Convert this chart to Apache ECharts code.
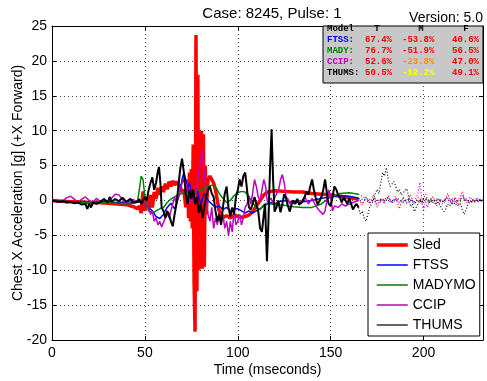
<!DOCTYPE html>
<html><head><meta charset="utf-8">
<script src="https://cdn.jsdelivr.net/npm/echarts@6/dist/echarts.min.js"></script>
<style>html,body{margin:0;padding:0;background:#fff}#c{width:487px;height:381px}</style>
</head><body><div id="c"></div>
<script>
// ---- data (time in ms, acceleration in g) ----
const seriesNames = ['Sled', 'FTSS', 'MADYMO', 'CCIP', 'THUMS'];
const xTicks = [0, 50, 100, 150, 200];
const yTicks = [-20, -15, -10, -5, 0, 5, 10, 15, 20, 25];
const solidEnd = 165; // after this time the traces are drawn dotted

const sled = [[0,0],[5,-0.1],[10,-0.2],[15,-0.2],[20,-0.3],[25,-0.3],[30,-0.4],[35,-0.5],[40,-0.6],[44,-0.9],[46,-1.2],[47,-0.8],[48,-1.8],[49,1.3],[50,-1.5],[51,0.5],[52,-1.2],[53,0.8],[54,-1.0],[55,1.2],[56,0.2],[57,1.8],[58,0.8],[59,2.0],[60,1.2],[61,2.4],[62,1.6],[63,2.7],[64,2.0],[65,2.8],[66,2.2],[67,2.7],[68,2.3],[69,2.0],[70,1.2],[71,1.5],[72,-1.0],[73,3.0],[73.5,-2.5],[74,4.0],[74.5,-3.0],[75,4.5],[75.5,-4],[76,8],[76.5,-12],[77,-18.8],[77.5,23.7],[78,-13],[78.5,18],[79,-10],[79.5,10],[80,-9.8],[80.5,10],[81,-9.8],[81.5,9.5],[82,-9.5],[82.5,5],[83,-2],[84,3],[85,3.5],[86,3],[87,2.5],[88,1.5],[89,0],[90,-1.5],[91,-2],[92,-2.4],[94,-2.2],[96,-2.5],[98,-2.1],[100,-2.3],[102,-2.4],[104,-2.3],[106,-2.1],[108,-1.6],[110,-0.8],[112,0],[114,0.8],[116,1.2],[118,1.3],[120,1.4],[125,1.3],[130,1.2],[135,1.2],[140,1.0],[145,0.9],[150,0.8],[155,0.6],[160,0.4],[165,0.2],[167,-0.6],[169,0.5],[171,-0.5],[173,0.8],[175,-1.0],[177,0.3],[179,-0.5],[181,0.7],[183,-0.4],[185,0.6],[187,-1.2],[189,0.5],[191,-0.3],[193,0.8],[195,-0.6],[197,0.4],[199,-0.5],[201,0.9],[203,-0.3],[205,0.6],[207,-0.8],[209,0.3],[211,-0.4],[213,1.0],[215,-0.5],[217,0.5],[219,-0.7],[221,0.8],[223,-0.3],[225,0.5],[227,-0.2],[229,0.3],[232,0]];

const ftss = [[0,0],[5,-0.1],[10,-0.2],[15,-0.2],[20,-0.3],[25,-0.3],[30,-0.2],[35,-0.3],[40,-0.2],[45,-0.3],[48,-0.2],[50,-0.5],[52,-1.0],[54,-1.5],[56,-2.3],[58,-2.6],[60,-2.0],[62,-1.0],[64,-0.4],[66,-1.2],[68,0.3],[69,1.5],[70,3.0],[71,4.0],[72,3.0],[73,1.5],[74,2.5],[75,1.0],[76,0.5],[78,1.5],[80,-0.5],[82,1.0],[84,0],[86,-0.5],[88,-1.0],[90,-0.8],[92,-1.3],[94,-1.0],[96,-1.5],[98,-1.2],[100,-1.2],[102,-1.5],[104,-1.8],[106,-1.5],[108,-1.8],[110,-1.5],[112,-1.2],[114,-0.8],[116,-0.5],[118,-0.3],[120,-0.5],[122,-0.2],[125,0],[130,-0.3],[135,-0.2],[140,0],[145,0.3],[150,0.5],[155,0.7],[160,0.6],[165,0.3],[168,0.1],[171,-0.3],[174,0.2],[177,-0.2],[180,0.4],[183,-0.1],[186,0.3],[189,-0.3],[192,0.2],[195,-0.4],[198,0.1],[201,0.3],[204,-0.2],[207,0.2],[210,-0.1],[213,0.3],[216,-0.3],[219,0.1],[222,0.4],[225,-0.2],[228,0.2],[232,0]];

const madymo = [[0,0],[5,-0.1],[10,-0.2],[15,-0.3],[20,-0.3],[25,-0.4],[30,-0.3],[35,-0.4],[40,-0.5],[44,-0.4],[46,-0.2],[47,1.5],[48,3.5],[49,3.0],[50,0.5],[51,-1.0],[52,-1.5],[54,-1.8],[56,-1.5],[58,-1.2],[60,-1.0],[62,-0.3],[64,0.2],[66,0.5],[68,0.8],[70,1.0],[72,1.2],[74,0.8],[76,1.0],[78,1.5],[80,1.3],[82,1.8],[84,2.0],[86,2.2],[88,2.0],[90,1.0],[92,0.3],[94,-0.3],[96,0],[98,0.7],[100,1.1],[102,1.3],[104,1.2],[106,0.6],[108,-0.3],[110,-1.0],[112,-1.3],[114,-0.6],[116,-0.4],[118,-0.5],[120,-0.6],[125,-0.7],[130,-0.9],[135,-1.0],[140,-1.0],[145,-0.5],[150,0.5],[155,1.0],[160,1.1],[165,0.9],[168,0.4],[171,0.1],[174,-0.2],[177,0.2],[180,0],[183,-0.3],[186,0.1],[189,-0.1],[192,0.2],[195,-0.2],[198,0],[201,0.2],[204,-0.1],[207,0.1],[210,-0.2],[213,0],[216,0.2],[219,-0.1],[222,0.1],[225,-0.2],[228,0],[232,0.1]];

const ccip = [[0,0],[2,-0.1],[4,-0.2],[6,0],[8,0.4],[10,0.6],[12,0.2],[14,-0.3],[16,0.2],[18,0.5],[20,0],[22,-0.3],[24,0.3],[26,-0.2],[28,0.2],[30,-0.2],[32,0.3],[34,0.9],[36,0.8],[38,0.1],[40,-0.3],[42,0.2],[44,0.1],[46,-0.3],[48,-0.2],[50,-0.5],[52,-1.0],[53,-2.0],[54,-1.5],[55,-3.0],[56,-2.5],[57,-3.5],[58,-3.0],[59,-3.8],[60,-3.7],[61,-2.5],[62,-1.8],[63,-2.5],[64,-1.5],[65,-0.5],[66,0.5],[67,-0.5],[68,0.5],[69,1.5],[70,2.5],[71,3.0],[72,2.5],[73,1.0],[74,2.0],[75,-0.5],[76,1.0],[77,0.5],[78,2.0],[79,4.0],[80,6.0],[81,7.0],[82,4.0],[83,0.5],[84,-2.0],[85,-3.0],[86,-1.0],[87,-4.0],[88,-2.5],[89,-3.5],[90,-1.5],[91,-3.5],[92,-2.0],[93,-4.0],[94,-3.0],[95,-5.0],[96,-3.0],[97,-4.5],[98,-1.5],[99,-3.5],[100,-3.0],[101,-2.0],[102,-3.5],[103,-2.5],[104,-1.0],[105,-0.5],[106,0.6],[107,-0.5],[108,1.0],[109,3.0],[110,2.0],[111,0.5],[112,0],[113,1.5],[114,3.0],[115,2.0],[116,-0.3],[117,-0.5],[118,0.3],[119,-0.5],[120,0.5],[121,0.3],[122,1.5],[123,3.0],[124,3.7],[125,2.5],[126,0.5],[127,0.2],[128,-0.5],[129,0],[130,-0.5],[132,0.2],[134,-0.3],[136,0.5],[138,-0.5],[140,0.3],[142,-0.8],[144,-1.5],[146,-2.0],[147,-1.5],[148,0.0],[149,1.5],[150,0.5],[151,-1.5],[152,-0.8],[154,-1.0],[156,-0.5],[158,-0.8],[160,-0.5],[162,-0.3],[165,0],[167,-0.5],[169,0.4],[171,-0.3],[173,0.3],[175,-0.6],[177,0.2],[179,-0.2],[181,0.5],[183,-0.4],[185,0.2],[187,-0.3],[189,0.3],[191,-0.5],[193,0.2],[195,-0.2],[197,1.0],[198,2.6],[199,0.5],[200,-1.6],[201,0],[202,-1.0],[204,0.3],[206,-0.4],[208,0.2],[210,-0.5],[212,0.5],[214,-0.2],[216,0.3],[218,-0.4],[220,0.8],[221,1.3],[222,0.3],[224,-0.3],[226,0.2],[228,0],[230,-0.2],[232,0]];

const thums = [[0,0],[2,-0.1],[4,-0.2],[6,-0.1],[8,-0.3],[10,-0.2],[12,-0.4],[14,-0.3],[16,-0.6],[18,-0.5],[19,-1.2],[20,-0.5],[21,-1.0],[22,-0.3],[24,-0.5],[26,-0.2],[28,0.2],[30,-0.3],[31,0.5],[32,-0.2],[34,0.2],[36,-0.1],[38,0.4],[40,-0.2],[42,0.2],[44,-0.3],[46,-0.2],[47,0.2],[48,-0.5],[49,0],[50,0.5],[51,0],[52,1.5],[53,2.5],[54,3.3],[55,1.5],[56,2.5],[57,4.2],[57.6,4.8],[58.5,2.0],[59,-1.0],[60,-1.5],[61,-2.5],[62,-1.5],[63,-2.0],[64,-3.0],[65,-3.7],[66,-2.0],[67,-0.5],[68,2.0],[69,4.5],[70,6.0],[71,4.0],[72,0.8],[73,-0.5],[74,1.5],[75,0.2],[76,1.6],[77,-0.5],[78,0.5],[79,-1.8],[80,-0.5],[81,-2.5],[82,-1.0],[83,0.5],[84,1.5],[85,2.0],[86,1.0],[87,0.5],[88,-1.5],[89,-3.0],[90,-2.0],[91,-3.5],[92,-1.0],[93,1.0],[94,2.0],[95,-1.0],[96,-2.3],[97,-1.0],[98,-2.0],[99,0.5],[100,1.5],[101,3.0],[102,2.0],[103,3.5],[104,4.0],[105,1.5],[106,-1.0],[107,-1.3],[108,-0.5],[109,0.5],[110,0.6],[111,-1.5],[112,-4.0],[113,-4.5],[114,-2.0],[114.7,-0.5],[115.7,-8.7],[116.5,-3.0],[117.3,4.0],[118.2,10.2],[119,3.0],[119.8,-1.6],[120.8,-1.0],[121.8,0.0],[123,-1.7],[124,-0.5],[125,0.9],[126,0.3],[127,-0.8],[128,-1.6],[129,-0.5],[130,0.0],[131,-0.5],[132,0.2],[133,-0.6],[134.5,-0.3],[136,0.5],[137,1.3],[138,0.8],[139,2.0],[140,3.0],[141,1.5],[142,0.3],[143,-0.6],[144,-0.8],[145,0.5],[146,1.5],[147,3.0],[148,1.0],[148.5,-0.1],[149,-0.5],[150,-0.8],[151,0.5],[152,2.0],[153,1.6],[154,0.8],[155,0.4],[156,-0.3],[157,0.5],[158,0],[159,-0.5],[160,0.3],[161,-0.5],[162,-1.3],[163,-0.8],[164,-0.5],[165,-1.0],[166,-2.0],[167,-1.5],[168,-2.5],[169,-3.0],[170,-2.0],[171,-1.0],[172,-1.2],[173,0.0],[174,1.0],[175,1.6],[176,1.0],[177,2.5],[178,4.0],[179,3.5],[180,4.7],[181,3.0],[182,2.0],[183,2.2],[184,2.7],[185,2.0],[186,1.2],[187,1.6],[188,0.8],[189,1.0],[190,1.4],[191,1.7],[192,0.5],[193,-0.9],[194,-0.5],[195,-1.6],[196,-1.0],[197,-0.5],[198,0.0],[199,-0.3],[200,0.3],[201,0.4],[202,0],[203,-0.4],[204,0.1],[205,-0.3],[206,0.0],[207,-0.5],[208,-0.2],[209,-0.8],[210,-1.0],[211,-1.6],[212,-1.2],[213,-0.5],[214,-0.8],[215,-0.2],[216,-0.6],[217,-0.3],[218,-0.8],[219,-1.0],[220,-0.5],[221,-1.5],[222,-2.0],[223,-1.2],[224,-0.5],[225,-0.2],[226,0],[228,-0.2],[230,0],[232,-0.1]];

// correlation table
const tableHeader = ['Model', 'T', 'M', 'F'];
const tableModels = ['FTSS:', 'MADY:', 'CCIP:', 'THUMS:'];
const tableT = ['67.4%', '76.7%', '52.6%', '50.5%'];
const tableM = ['-53.8%', '-51.9%', '-23.8%', '-12.2%'];
const tableF = ['40.6%', '56.5%', '47.0%', '49.1%'];

// ---- styles ----
const colors = ['#ff0000', '#0000ff', '#008000', '#bf00bf', '#000000'];
const widths = [3.5, 1.5, 1.5, 1.5, 2];
const legendWidths = [3.5, 1.5, 1.5, 1.5, 1.2];
const tableModelColors = ['#0000ff', '#008000', '#bf00bf', '#000000'];
const tableMColors = ['#ff0000', '#ff0000', '#ff8c00', '#ffff00'];
const allData = [sled, ftss, madymo, ccip, thums];
const FONT = '"Liberation Sans", Arial, sans-serif';
const MONO = '"Liberation Mono", "Courier New", monospace';

const series = [];
allData.forEach((d, i) => {
  series.push({
    type: 'line', name: seriesNames[i], symbol: 'none', z: 2 + i,
    data: d.filter(p => p[0] <= solidEnd),
    lineStyle: { color: colors[i], width: widths[i] }, itemStyle: { color: colors[i] },
    emphasis: { disabled: true }
  });
});
allData.forEach((d, i) => {
  series.push({
    type: 'line', name: seriesNames[i] + '-tail', symbol: 'none', z: 2 + i,
    data: d.filter(p => p[0] >= solidEnd),
    lineStyle: { color: colors[i], width: 1.2, type: [1, 2] }, itemStyle: { color: colors[i] },
    emphasis: { disabled: true }
  });
});

const graphic = [
  { type: 'rect', x: 323, y: 26, shape: { width: 160, height: 57 }, style: { fill: '#c8c8c8', stroke: '#000', lineWidth: 1 }, z: 20 },
  { type: 'text', x: 483, y: 18, z: 21, style: { text: 'Version: 5.0', align: 'right', verticalAlign: 'middle', font: '14px ' + FONT, fill: '#000' } }
];
const hdrX = [327, 377, 421, 466];
tableHeader.forEach((h, j) => graphic.push({ type: 'text', x: hdrX[j], y: 29, z: 21,
  style: { text: h, align: j === 0 ? 'left' : 'center', verticalAlign: 'middle', font: 'bold 9px ' + MONO, fill: '#000' } }));
const rowY = [39.5, 51, 62, 73];
tableModels.forEach((m, r) => {
  const cells = [[m, 327, tableModelColors[r]], [tableT[r], 365, '#ff0000'], [tableM[r], 402, tableMColors[r]], [tableF[r], 452, '#ff0000']];
  cells.forEach(c => graphic.push({ type: 'text', x: c[1], y: rowY[r], z: 21,
    style: { text: c[0], align: 'left', verticalAlign: 'middle', font: 'bold 9px ' + MONO, fill: c[2] } }));
});

const gridLine = { show: true, lineStyle: { color: '#444', width: 1, type: [1, 3] } };
const chart = echarts.init(document.getElementById('c'), null, { renderer: 'canvas' });
chart.setOption({
  animation: false,
  backgroundColor: '#fff',
  title: { text: 'Case: 8245, Pulse: 1', left: 267, top: 1, textAlign: 'center',
    textStyle: { fontSize: 15, fontWeight: 'normal', color: '#000', fontFamily: FONT } },
  grid: { left: 52, right: 4, top: 26, bottom: 41, show: false, containLabel: false, outerBoundsMode: 'none' },
  legend: {
    left: 368, top: 233, orient: 'vertical', itemWidth: 31, itemHeight: 14, itemGap: 6,
    padding: [5, 4, 4, 7], backgroundColor: '#fff', borderColor: '#000', borderWidth: 1,
    textStyle: { fontSize: 14, color: '#000', fontFamily: FONT },
    data: seriesNames.map((n, i) => ({ name: n, lineStyle: { width: legendWidths[i] },
      itemStyle: { color: 'rgba(0,0,0,0)', borderWidth: 0, opacity: 0 } })),
    selectedMode: false
  },
  xAxis: [{
    type: 'value', min: 0, max: 232, interval: 50, position: 'bottom',
    name: 'Time (mseconds)', nameLocation: 'middle', nameGap: 23, nameMoveOverlap: false,
    nameTextStyle: { fontSize: 14, color: '#000', fontFamily: FONT },
    axisLine: { show: true, onZero: false, lineStyle: { color: '#000', width: 1 } },
    axisTick: { show: true, inside: true, length: 4, lineStyle: { color: '#000' } },
    axisLabel: { fontSize: 14, color: '#000', fontFamily: FONT, margin: 6, showMaxLabel: false,
      formatter: v => (xTicks.indexOf(v) >= 0 ? String(v) : '') },
    splitLine: gridLine
  }, {
    type: 'value', min: 0, max: 232, interval: 50, position: 'top',
    axisLine: { show: true, onZero: false, lineStyle: { color: '#000', width: 1 } },
    axisTick: { show: true, inside: true, length: 4, lineStyle: { color: '#000' } },
    axisLabel: { show: false }, splitLine: { show: false }
  }],
  yAxis: [{
    type: 'value', min: -20, max: 25, interval: 5, position: 'left',
    name: 'Chest X Acceleration [g] (+X Forward)', nameLocation: 'middle', nameGap: 27, nameMoveOverlap: false,
    nameTextStyle: { fontSize: 14, color: '#000', fontFamily: FONT },
    axisLine: { show: true, onZero: false, lineStyle: { color: '#000', width: 1 } },
    axisTick: { show: true, inside: true, length: 4, lineStyle: { color: '#000' } },
    axisLabel: { fontSize: 14, color: '#000', fontFamily: FONT, margin: 5,
      formatter: v => (yTicks.indexOf(v) >= 0 ? String(v) : '') },
    splitLine: gridLine
  }, {
    type: 'value', min: -20, max: 25, interval: 5, position: 'right',
    axisLine: { show: true, onZero: false, lineStyle: { color: '#000', width: 1 } },
    axisTick: { show: true, inside: true, length: 4, lineStyle: { color: '#000' } },
    axisLabel: { show: false }, splitLine: { show: false }
  }],
  series: series,
  graphic: graphic
});
</script></body></html>
